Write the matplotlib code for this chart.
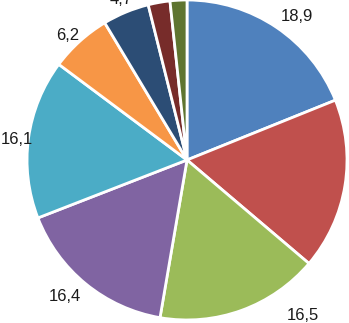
import matplotlib.pyplot as plt
plt.rcParams['font.family'] = 'Liberation Sans'

values = [18.9, 17.3, 16.5, 16.4, 16.1, 6.2, 4.7, 2.2, 1.7]
labels = ['18,9', '', '16,5', '16,4', '16,1', '6,2', '4,7', '', '']
colors = ['#4F81BD', '#C0504D', '#9BBB59', '#8064A2', '#4BACC6',
          '#F79646', '#2C4D75', '#772C2A', '#5F7530']

# label placement (outside end, as in the spreadsheet)
label_pos = [(0.69, 0.894), None, (0.725, -0.969), (-0.7625, -0.856),
             (-1.066, 0.131), (-0.744, 0.781), (-0.4125, 1.006), None, None]

fig = plt.figure(figsize=(3.49, 3.23), dpi=100)
ax = fig.add_axes([0, 0, 1, 1])
wedges, texts = ax.pie(values, labels=labels, colors=colors, startangle=90,
                       counterclock=False,
                       wedgeprops=dict(edgecolor='white', linewidth=2))
for t, p in zip(texts, label_pos):
    t.set_fontsize(12)
    t.set_color('#1a1a1a')
    if p is not None:
        t.set_position(p)
        t.set_ha('center')
        t.set_va('center')

ax.set_aspect('auto')
ax.set_xlim(-1.169, 1.0125)
ax.set_ylim(-1.019, 1.0)
ax.axis('off')

plt.savefig('out.png', dpi=100)
